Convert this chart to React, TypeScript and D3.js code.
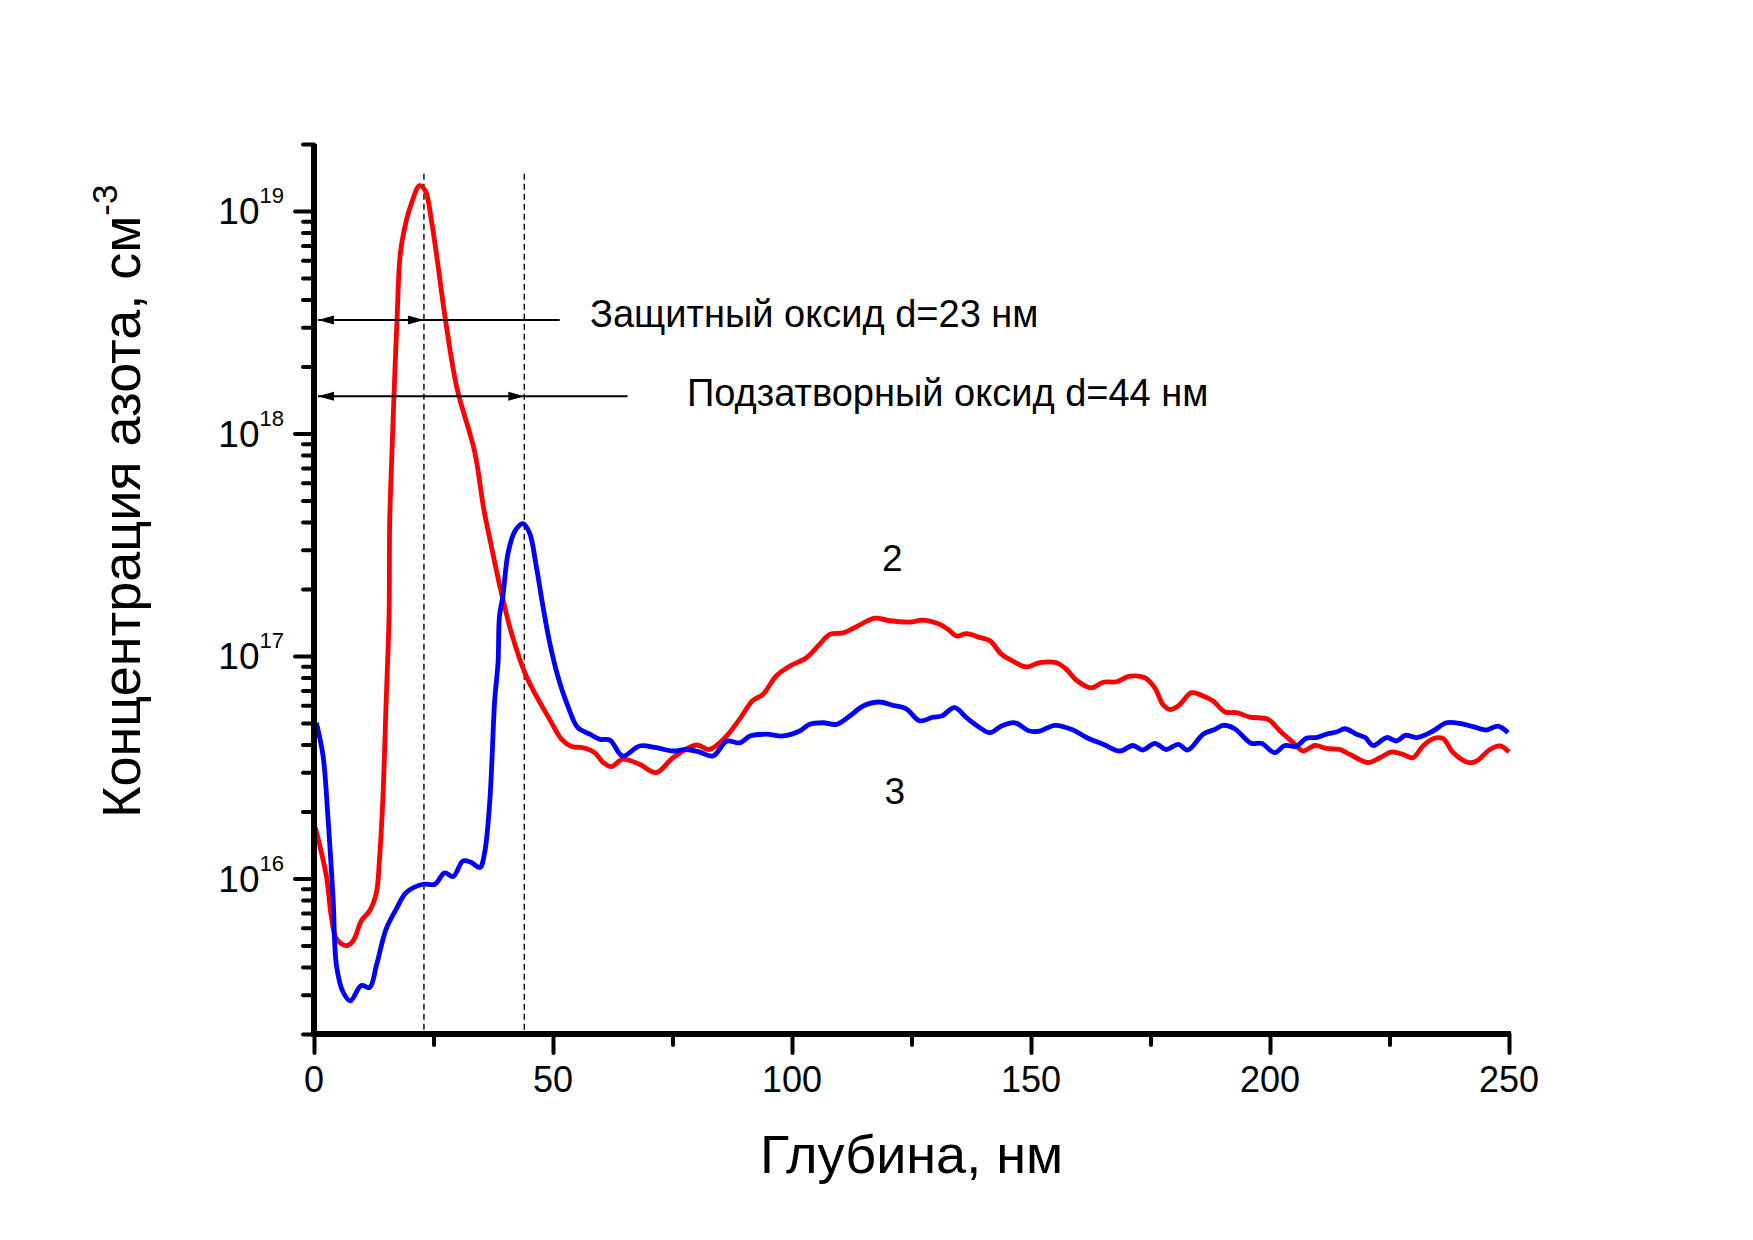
import { useEffect, useRef } from "react";
import * as d3 from "d3";

// curve 2 (red): depth, nm / nitrogen concentration, cm^-3
const depth2 = [0.3, 2.6, 3.6, 4.7, 6.8, 8.2, 9.9, 11.65, 13.05, 13.7, 14.4, 15.1, 15.7, 15.84, 16.3, 16.8, 17.37, 18.07, 19.33, 20.37, 22.1, 23.3, 24.56, 25.6, 27.5, 29.9, 33.6, 35.5, 37.4, 39.2, 41.3, 44.1, 46.5, 49.3, 51.8, 53.9, 56.3, 58.7, 60.5, 62.2, 64.6, 68.1, 71.6, 75.1, 80.0, 82.7, 86.3, 89.0, 91.8, 93.9, 96.7, 99.5, 103.0, 105.8, 107.9, 110.7, 114.2, 117.3, 120.4, 124.6, 127.4, 130.5, 132.6, 134.4, 136.5, 139.3, 141.4, 143.8, 146.2, 149.0, 151.8, 155.3, 157.4, 159.5, 162.6, 165.1, 167.9, 170.6, 173.8, 175.9, 177.6, 179.0, 180.8, 183.6, 186.0, 188.1, 190.6, 193.0, 195.8, 199.6, 202.1, 204.9, 206.9, 209.4, 211.8, 214.6, 216.7, 220.5, 223.0, 225.4, 227.8, 229.9, 232.0, 234.1, 236.2, 238.3, 241.4, 243.2, 246.0, 248.1, 250];
const conc2 = [1.69e16, 1.02e16, 6.8e15, 5.35e15, 4.99e15, 5.25e15, 6.46e15, 7.16e15, 8.65e15, 1.22e16, 2.27e16, 6.31e16, 1.51e17, 4.07e17, 8.13e17, 1.62e18, 3.24e18, 6.46e18, 9.08e18, 1.08e19, 1.3e19, 1.23e19, 9.08e18, 6.44e18, 3.24e18, 1.6e18, 8.3e17, 4.6e17, 2.9e17, 1.92e17, 1.27e17, 8.41e16, 6.61e16, 5.19e16, 4.22e16, 3.92e16, 3.87e16, 3.68e16, 3.32e16, 3.18e16, 3.44e16, 3.26e16, 2.99e16, 3.49e16, 3.98e16, 3.8e16, 4.37e16, 5.19e16, 6.31e16, 6.71e16, 8.13e16, 8.99e16, 9.82e16, 1.13e17, 1.25e17, 1.27e17, 1.38e17, 1.48e17, 1.44e17, 1.42e17, 1.45e17, 1.4e17, 1.32e17, 1.23e17, 1.26e17, 1.21e17, 1.17e17, 1.02e17, 9.48e16, 8.93e16, 9.33e16, 9.33e16, 8.71e16, 7.78e16, 7.19e16, 7.62e16, 7.66e16, 8.11e16, 7.98e16, 7.19e16, 6.05e16, 5.75e16, 5.96e16, 6.84e16, 6.61e16, 6.27e16, 5.6e16, 5.56e16, 5.31e16, 5.19e16, 4.6e16, 4.07e16, 3.74e16, 3.96e16, 3.84e16, 3.8e16, 3.61e16, 3.32e16, 3.49e16, 3.7e16, 3.61e16, 3.49e16, 3.94e16, 4.25e16, 4.25e16, 3.68e16, 3.32e16, 3.37e16, 3.8e16, 3.94e16, 3.7e16];

// curve 3 (blue)
const depth3 = [0.5, 1.9, 2.9, 4.0, 4.7, 6.1, 7.6, 9.9, 11.65, 13.05, 15.1, 17.2, 19.3, 22.8, 25.3, 27.3, 29.1, 31.2, 32.9, 34.7, 35.7, 36.8, 37.8, 38.5, 38.8, 39.5, 40.6, 42.0, 43.7, 45.1, 46.5, 47.9, 49.3, 51.0, 53.1, 55.2, 57.7, 59.8, 61.9, 64.6, 68.1, 71.6, 75.1, 77.9, 80.7, 83.5, 86.3, 89.1, 91.2, 94.6, 98.1, 101.6, 103.7, 106.5, 109.3, 112.1, 114.9, 118.3, 121.1, 123.9, 126.7, 129.5, 131.3, 134.0, 136.5, 139.3, 141.4, 143.8, 146.6, 149.7, 151.8, 155.0, 158.8, 161.6, 165.1, 168.6, 171.3, 173.4, 175.9, 178.3, 180.8, 182.8, 186.0, 188.5, 190.2, 192.6, 196.1, 198.2, 201.0, 203.1, 205.5, 207.6, 209.7, 211.8, 213.9, 215.7, 218.1, 219.9, 221.6, 224.4, 226.5, 228.3, 230.7, 234.1, 236.9, 239.7, 242.5, 245.3, 247.7, 249.8];
const conc3 = [5.01e16, 3.55e16, 1.91e16, 8.07e15, 4.06e15, 3.08e15, 2.82e15, 3.3e15, 3.24e15, 4.06e15, 5.93e15, 7.28e15, 8.65e15, 9.42e15, 9.42e15, 1.06e16, 1.02e16, 1.2e16, 1.18e16, 1.12e16, 1.31e16, 2.27e16, 6.31e16, 9.33e16, 1.51e17, 1.85e17, 2.9e17, 3.63e17, 3.93e17, 3.57e17, 2.53e17, 1.67e17, 1.15e17, 8.13e16, 5.96e16, 4.76e16, 4.45e16, 4.22e16, 4.19e16, 3.55e16, 3.94e16, 3.87e16, 3.74e16, 3.8e16, 3.7e16, 3.55e16, 4.14e16, 4.07e16, 4.37e16, 4.45e16, 4.37e16, 4.6e16, 4.93e16, 5.01e16, 4.93e16, 5.37e16, 5.96e16, 6.21e16, 6e16, 5.79e16, 5.11e16, 5.31e16, 5.37e16, 5.86e16, 5.28e16, 4.76e16, 4.52e16, 4.84e16, 5.01e16, 4.6e16, 4.6e16, 4.88e16, 4.65e16, 4.3e16, 4.01e16, 3.74e16, 3.96e16, 3.78e16, 4.05e16, 3.8e16, 4.01e16, 3.78e16, 4.45e16, 4.68e16, 4.88e16, 4.71e16, 4.05e16, 4.05e16, 3.68e16, 3.96e16, 3.92e16, 4.27e16, 4.3e16, 4.45e16, 4.55e16, 4.71e16, 4.45e16, 4.3e16, 3.96e16, 4.3e16, 4.15e16, 4.4e16, 4.3e16, 4.6e16, 5.01e16, 4.98e16, 4.81e16, 4.65e16, 4.84e16, 4.52e16];

const xTicksMajor = [0, 50, 100, 150, 200, 250];
const xTicksMinor = [25, 75, 125, 175, 225];
const yDecades = [16, 17, 18, 19];

// oxide thicknesses, nm
const oxideProtect = 23;
const oxideGate = 44;

const FONT = "'Liberation Sans', Arial, sans-serif";

export default function App() {
  const ref = useRef<SVGSVGElement>(null);

  useEffect(() => {
    if (!ref.current) return;
    document.body.style.margin = "0";
    const svg = d3.select(ref.current);
    svg.selectAll("*").remove();

    const x = d3.scaleLinear().domain([0, 250]).range([314, 1509]);
    const y = d3.scaleLog().domain([2e15, 2e19]).range([1034, 144]);

    const yMinor: number[] = [];
    for (let e = 15; e <= 19; e++) {
      for (let m = 2; m <= 9; m++) {
        const v = m * Math.pow(10, e);
        if (v >= 2e15 && v <= 2e19) yMinor.push(v);
      }
    }

    // dashed guides at oxide thicknesses
    [oxideProtect, oxideGate].forEach(d => {
      svg.append("line")
        .attr("x1", x(d)).attr("x2", x(d))
        .attr("y1", y(1.47e19)).attr("y2", y(2e15))
        .attr("stroke", "#000").attr("stroke-width", 1.4)
        .attr("stroke-dasharray", "6,4");
    });

    // curves
    const line = (xs: number[], ys: number[]) =>
      d3.line<number>()
        .x((_, i) => x(xs[i]))
        .y(v => y(v))
        .curve(d3.curveCatmullRom.alpha(0.5))(ys);

    svg.append("path").attr("d", line(depth2, conc2) || "")
      .attr("fill", "none").attr("stroke", "#ff0000").attr("stroke-width", 4.8)
      .attr("stroke-linejoin", "round");
    svg.append("path").attr("d", line(depth3, conc3) || "")
      .attr("fill", "none").attr("stroke", "#0000ff").attr("stroke-width", 4.8)
      .attr("stroke-linejoin", "round");

    // axes
    const yAxisMinor = svg.append("g").attr("transform", `translate(${x(0)},0)`)
      .call(d3.axisLeft(y).tickValues(yMinor).tickSize(11).tickSizeOuter(0).tickFormat(() => ""));
    const yAxisMajor = svg.append("g").attr("transform", `translate(${x(0)},0)`)
      .call(d3.axisLeft(y).tickValues(yDecades.map(e => Math.pow(10, e))).tickSize(19).tickSizeOuter(0).tickFormat(() => ""));
    const xAxisMinor = svg.append("g").attr("transform", `translate(0,${y(2e15)})`)
      .call(d3.axisBottom(x).tickValues(xTicksMinor).tickSize(11).tickSizeOuter(0).tickFormat(() => ""));
    const xAxisMajor = svg.append("g").attr("transform", `translate(0,${y(2e15)})`)
      .call(d3.axisBottom(x).tickValues(xTicksMajor).tickSize(19).tickSizeOuter(0).tickFormat(() => ""));

    [yAxisMinor, yAxisMajor, xAxisMinor, xAxisMajor].forEach(g => {
      g.select(".domain").remove();
      g.selectAll(".tick line").attr("stroke", "#000").attr("stroke-width", 4)
        .attr("stroke-linecap", "round");
    });

    svg.append("line")
      .attr("x1", x(0)).attr("x2", x(0)).attr("y1", y(2e19)).attr("y2", y(2e15) + 3)
      .attr("stroke", "#000").attr("stroke-width", 6);
    svg.append("line")
      .attr("x1", x(0) - 3).attr("x2", x(250) + 2).attr("y1", y(2e15)).attr("y2", y(2e15))
      .attr("stroke", "#000").attr("stroke-width", 6);

    // tick labels
    xTicksMajor.forEach(t => {
      svg.append("text").attr("x", x(t)).attr("y", 1092)
        .attr("text-anchor", "middle").attr("font-family", FONT).attr("font-size", 36)
        .text(t);
    });
    yDecades.forEach(e => {
      const ty = y(Math.pow(10, e));
      const t = svg.append("text").attr("x", 284).attr("y", ty + 13.5)
        .attr("text-anchor", "end").attr("font-family", FONT);
      t.append("tspan").attr("font-size", 37).text("10");
      t.append("tspan").attr("font-size", 22).attr("dy", -21).text(e);
    });

    // axis titles
    svg.append("text").attr("x", x(125)).attr("y", 1173)
      .attr("text-anchor", "middle").attr("font-family", FONT).attr("font-size", 54)
      .text("Глубина, нм");
    const yt = svg.append("text")
      .attr("transform", "translate(140,818) rotate(-90)")
      .attr("font-family", FONT);
    yt.append("tspan").attr("font-size", 54).text("Концентрация азота, см");
    yt.append("tspan").attr("font-size", 35).attr("dy", -23).text("-3");

    // thickness arrows
    const arrowHead = (tx: number, ty: number, dir: number) =>
      `M${tx},${ty}L${tx - dir * 16},${ty - 4.5}L${tx - dir * 16},${ty + 4.5}Z`;
    const arrows = [
      { d: oxideProtect, level: 3.24e18, end: 51.4 },
      { d: oxideGate, level: 1.47e18, end: 65.6 },
    ];
    arrows.forEach(a => {
      const ay = y(a.level);
      svg.append("line").attr("x1", x(0) + 4).attr("x2", x(a.end))
        .attr("y1", ay).attr("y2", ay).attr("stroke", "#000").attr("stroke-width", 2);
      svg.append("path").attr("d", arrowHead(x(0) + 4, ay, -1)).attr("fill", "#000");
      svg.append("path").attr("d", arrowHead(x(a.d), ay, 1)).attr("fill", "#000");
    });

    svg.append("text").attr("x", 590).attr("y", 327).attr("font-family", FONT)
      .attr("font-size", 38).text("Защитный оксид d=23 нм");
    svg.append("text").attr("x", 687).attr("y", 406).attr("font-family", FONT)
      .attr("font-size", 38).text("Подзатворный оксид d=44 нм");

    // curve numbers
    svg.append("text").attr("x", x(121)).attr("y", y(2.42e17)).attr("text-anchor", "middle")
      .attr("font-family", FONT).attr("font-size", 37).text("2");
    svg.append("text").attr("x", x(121.5)).attr("y", y(2.16e16)).attr("text-anchor", "middle")
      .attr("font-family", FONT).attr("font-size", 37).text("3");
  }, []);

  return (
    <svg ref={ref} width={1753} height={1240}
      style={{ display: "block", position: "absolute", left: 0, top: 0, background: "#fff" }} />
  );
}
